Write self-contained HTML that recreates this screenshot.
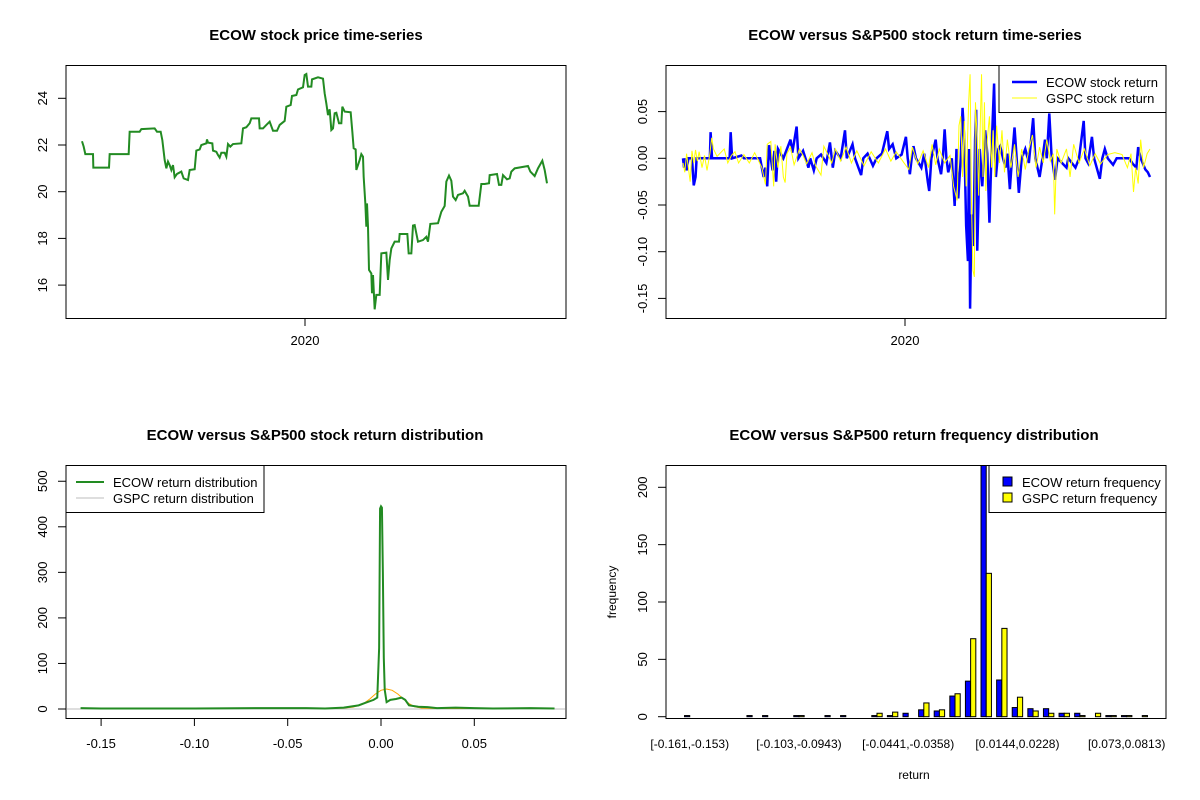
<!DOCTYPE html>
<html><head><meta charset="utf-8"><style>
html,body{margin:0;padding:0;background:#fff;}
svg{display:block;font-family:"Liberation Sans",Arial,sans-serif;}
</style></head><body>
<svg id="c" width="1200" height="800" xmlns="http://www.w3.org/2000/svg"></svg>
<script>
// ---- Panel 1: price series (t = trading-day index) ----
const priceT=[67,72,77,100,101,148,150,207,210,240,245,285,292,303,308,315,320,325,330,335,340,345,352,365,372,385,390,405,410,420,425,440,442,445,458,460,470,475,480,485,495,500,505,512,520,545,550,560,570,575,598,600,610,620,630,640,652,660,675,680,693,697,710,715,730,735,740,745,755,757,775,790,795,800,805,810,815,820,825,830,838,845,848,855,873,878,882,888,890,895,900,905,910,912,917,920,922,925,928,935,937,940,945,950,960,965,980,985,990,995,1005,1018,1020,1043,1047,1055,1060,1065,1075,1090,1100,1105,1112,1135,1145,1155,1160,1168,1175,1180,1188,1195,1210,1215,1225,1230,1257,1265,1275,1288,1290,1312,1318,1325,1330,1342,1350,1355,1365,1405,1412,1425,1435,1448,1455,1462];
const priceV=[22.16,21.93,21.61,21.61,21.03,21.03,21.61,21.61,22.57,22.57,22.68,22.71,22.57,22.57,22.21,21.36,21.00,21.29,21.14,20.93,21.14,20.62,20.76,20.86,20.57,20.50,20.93,20.96,21.76,21.81,22.00,22.07,22.24,22.10,22.07,21.76,21.71,21.57,21.46,21.67,21.67,21.50,22.04,21.93,22.04,22.07,22.71,22.76,22.93,23.14,23.14,22.71,22.71,22.86,23.00,22.61,22.61,22.86,23.03,23.64,23.71,24.10,24.14,24.38,24.47,25.00,25.04,24.50,24.50,24.81,24.90,24.84,24.21,23.78,23.28,23.53,22.64,22.71,23.36,23.38,22.93,22.93,23.64,23.43,23.40,22.57,21.86,21.81,20.93,21.14,21.36,21.61,21.50,20.64,19.50,18.50,19.50,18.50,16.65,16.50,15.65,16.43,14.96,15.58,15.58,17.36,17.39,16.22,17.07,17.57,17.86,17.86,18.19,18.19,17.36,17.36,18.55,18.57,17.86,17.93,18.07,17.86,18.62,18.65,19.14,19.39,20.43,20.69,20.47,19.79,19.64,19.86,19.93,20.04,19.79,19.40,19.40,20.33,20.33,20.36,20.71,20.76,20.29,20.29,20.71,20.53,20.57,20.86,21.00,21.10,20.86,20.67,21.00,21.33,20.93,20.36];
const priceTicks=[16,18,20,22,24];
// ---- Panel 2: returns ----
const ecowT=[175,178,182,185,190,200,205,210,213,250,252,256,305,308,312,338,345,390,400,405,410,415,420,425,430,435,440,455,475,480,492,497,510,525,530,540,548,560,575,585,593,600,615,627,632,648,655,672,678,690,705,715,730,745,750,760,770,785,797,802,808,813,818,825,840,848,858,862,868,880,885,895,900,905,910,915,925,933,938,943,950,955,960,965,970,973,976,980,985,990,993,996,1003,1010,1018,1024,1030,1036,1043,1048,1055,1060,1068,1075,1080,1087,1093,1100,1106,1112,1120,1130,1140,1152,1158,1170,1178,1185,1190,1197,1203,1213,1220,1245,1250,1270,1280,1293,1298,1305,1316,1322,1338,1345,1352,1360,1375,1385,1420,1430,1440,1445,1452,1465,1472,1478];
const ecowR=[0,-0.01,0,-0.013,0,0,-0.029,-0.02,0,0,0.028,0,0,0.028,0,0.003,0,0,-0.02,-0.01,-0.03,0.014,0,-0.013,0.008,-0.025,0.01,0,0.02,0.006,0.034,0,0.008,-0.01,0,-0.013,0,0.004,-0.005,0.017,-0.01,0.008,0,0.03,0,0.015,0,-0.018,0,0.005,-0.008,0,0.005,0.029,0.01,0.015,0,0.004,0.023,0,-0.017,0,0.013,0,-0.01,0.005,-0.025,-0.035,0,0.02,0,-0.017,0,0.031,0,-0.015,0,-0.051,0.01,-0.043,0,0.054,0.02,-0.072,-0.11,0.01,-0.161,-0.06,-0.094,0.02,0.052,-0.099,0.01,-0.03,0.03,0.005,-0.069,0.01,0.08,-0.02,0.01,0.013,0,-0.01,0.005,-0.033,0,0.033,0,-0.037,0,0.01,-0.005,0.043,0,-0.02,0,0.02,0,0.048,0.005,-0.023,0,-0.01,0,-0.01,0,0.04,0,-0.005,0.023,0,-0.022,0,0.01,0,-0.007,0,0,-0.006,-0.01,0.012,0,-0.012,-0.015,-0.02];
const gspcT=[175,180,185,190,195,200,205,210,215,220,228,235,242,250,255,260,270,280,290,300,310,320,330,345,360,375,385,395,405,410,420,428,432,440,448,455,460,465,475,485,500,510,520,535,545,560,568,578,590,600,615,630,645,660,680,700,720,740,755,770,790,805,815,830,845,860,870,880,890,905,920,930,940,945,950,955,960,965,972,976,980,984,988,991,996,1000,1004,1008,1012,1016,1020,1024,1030,1036,1040,1045,1050,1058,1065,1072,1080,1090,1100,1110,1120,1130,1140,1150,1160,1170,1180,1190,1200,1208,1212,1218,1230,1245,1255,1265,1280,1295,1310,1325,1340,1360,1380,1400,1415,1425,1432,1438,1445,1452,1460,1470,1478];
const gspcR=[-0.005,-0.015,0.005,-0.01,-0.025,0.008,-0.005,0.009,-0.003,0.007,-0.01,0.003,-0.013,0.005,0.022,0.01,0.002,0.006,0.01,-0.005,0.003,0.007,-0.005,0.004,-0.005,0.006,-0.002,-0.01,-0.028,0.015,0.018,-0.03,0.015,-0.01,0.013,-0.02,-0.026,0.005,0.012,-0.007,0.01,0.003,-0.006,0.006,-0.008,-0.018,0.013,0.005,-0.005,0.01,-0.003,0.012,-0.005,0.008,-0.008,0.007,-0.005,0.01,-0.003,0.007,-0.004,-0.012,0.012,-0.006,0.008,-0.01,0.015,-0.007,0.01,-0.005,0.003,-0.03,-0.045,0.035,0.045,-0.02,0.04,-0.03,0.06,0.09,-0.05,-0.12,-0.127,0.06,0.02,-0.04,0.03,0.09,-0.02,0.06,-0.035,0.02,0.045,-0.01,0.03,-0.02,0.035,-0.005,0.03,-0.015,0.02,-0.01,0.015,-0.02,0.01,-0.012,0.01,0.025,-0.01,0.012,-0.005,0.02,-0.003,0.005,-0.06,0.01,-0.005,0.01,-0.02,0.015,-0.005,0.01,-0.008,0.005,-0.006,0.004,0.006,0.004,-0.01,0.005,-0.036,-0.01,-0.027,0.02,-0.01,0.005,0.01];
const retTicks=[-0.15,-0.10,-0.05,0.00,0.05];
// ---- Panel 3: densities ----
const ecowDx=[-0.161,-0.15,-0.10,-0.06,-0.04,-0.03,-0.02,-0.012,-0.008,-0.004,-0.002,-0.001,-0.0005,0.0,0.0005,0.001,0.0015,0.002,0.003,0.005,0.008,0.011,0.013,0.015,0.02,0.025,0.03,0.04,0.05,0.06,0.08,0.093];
const ecowDy=[2,1,1,2,2,1,3,8,14,20,25,134,440,445,442,300,112,42,15,20,22,25,20,8,5,4,2,3,2,1,2,1];
const gspcDx=[-0.05,-0.03,-0.02,-0.015,-0.01,-0.006,-0.003,0,0.003,0.006,0.009,0.012,0.015,0.018,0.022,0.03,0.05,0.07,0.09];
const gspcDy=[1,2,2,4,10,22,33,41,44,41,33,22,12,5,2,1,1,1,1];
const densXTicks=[-0.15,-0.10,-0.05,0.00,0.05];
const densYTicks=[0,100,200,300,400,500];
// ---- Panel 4: frequencies ----
const binLabels=["[-0.161,-0.153)","[-0.103,-0.0943)","[-0.0441,-0.0358)","[0.0144,0.0228)","[0.073,0.0813)"];
const binLabelIdx=[0,7,14,21,28];
const ecowFreq=[1,0,0,0,1,1,0,1,0,1,1,0,1,1,3,6,5,18,31,250,32,8,7,7,3,3,0,1,1,0];
const gspcFreq=[0,0,0,0,0,0,0,1,0,0,0,0,3,4,0,12,6,20,68,125,77,17,5,3,3,1,3,1,1,1];
const freqTicks=[0,50,100,150,200];

const svg=document.getElementById('c');
const NS='http://www.w3.org/2000/svg';
function mk(tag,attrs,parent){const e=document.createElementNS(NS,tag);for(const k in attrs)e.setAttribute(k,attrs[k]);(parent||svg).appendChild(e);return e;}
function txt(s,x,y,attrs,parent){const e=mk('text',Object.assign({x:x,y:y,'font-size':13,'text-anchor':'middle',fill:'#000'},attrs||{}),parent);e.textContent=s;return e;}
function lin(d0,d1,r0,r1){return v=>r0+(v-d0)/(d1-d0)*(r1-r0);}
function ytick(g,y,x0,label){mk('line',{x1:x0-8,x2:x0,y1:y,y2:y,stroke:'#000'},g);const t=txt(label,x0-19,y,{transform:`rotate(-90 ${x0-19} ${y})`},g);return t;}

// ===== Panel 1 =====
(function(){
 const g=mk('g',{});
 
 
 const X=lin(67,1462,82,547), Y=v=>98.3+(24-v)*23.35;
 const t=txt('ECOW stock price time-series',316,40,{'font-weight':'bold','font-size':15},g);
 
 priceTicks.forEach(v=>{const l=ytick(g,Y(v),66,String(v));});
 mk('line',{x1:305,x2:305,y1:318,y2:326,stroke:'#000'},g);
 const xl=txt('2020',305,345,{},g);
 const p=mk('polyline',{points:priceT.map((d,i)=>X(d)+','+Y(priceV[i])).join(' '),fill:'none',stroke:'#228b22','stroke-width':2},g);
 
 const b=mk('rect',{x:66,y:65.5,width:500,height:253,fill:'none',stroke:'#000'},g);
 
})();

// ===== Panel 2 =====
(function(){
 const g=mk('g',{});
 
 
 const X=lin(175,1478,683,1150), Y=v=>158.3-v*934;
 const t=txt('ECOW versus S&P500 stock return time-series',915,40,{'font-weight':'bold','font-size':15},g);
 
 [0.05,0,-0.05,-0.10,-0.15].forEach(v=>{const l=ytick(g,Y(v),666,v.toFixed(2));});
 mk('line',{x1:905,x2:905,y1:318,y2:326,stroke:'#000'},g);
 const xl=txt('2020',905,345,{},g);
 const cp=mk('clipPath',{id:'cp2'},g);mk('rect',{x:666,y:65,width:500,height:253},cp);
 const pb=mk('polyline',{points:ecowT.map((d,i)=>X(d)+','+Y(ecowR[i])).join(' '),fill:'none',stroke:'#0000ff','stroke-width':2.5,'clip-path':'url(#cp2)'},g);
 
 const py=mk('polyline',{points:gspcT.map((d,i)=>X(d)+','+Y(gspcR[i])).join(' '),fill:'none',stroke:'#ffff00','stroke-width':1,'clip-path':'url(#cp2)'},g);
 
 const lg=mk('g',{},g);
 
 mk('rect',{x:999,y:65.5,width:167,height:47,fill:'#fff',stroke:'#000'},lg);
 mk('line',{x1:1012,x2:1037,y1:82,y2:82,stroke:'#0000ff','stroke-width':2.5},lg);
 mk('line',{x1:1012,x2:1037,y1:98,y2:98,stroke:'#ffff00','stroke-width':1},lg);
 txt('ECOW stock return',1046,87,{'text-anchor':'start'},lg);
 txt('GSPC stock return',1046,103,{'text-anchor':'start'},lg);
 const b=mk('rect',{x:666,y:65.5,width:500,height:253,fill:'none',stroke:'#000'},g);
 
})();

// ===== Panel 3 =====
(function(){
 const g=mk('g',{});
 
 
 const X=v=>381+v*1866, Y=v=>709-v*0.4555;
 const t=txt('ECOW versus S&P500 stock return distribution',315,440,{'font-weight':'bold','font-size':15},g);
 
 densYTicks.forEach(v=>{const l=ytick(g,Y(v),66,String(v));});
 densXTicks.forEach(v=>{mk('line',{x1:X(v),x2:X(v),y1:718,y2:726,stroke:'#000'},g);const l=txt(v.toFixed(2),X(v),748,{},g);});
 mk('line',{x1:67,x2:565,y1:Y(0),y2:Y(0),stroke:'#bebebe'},g);
 const po=mk('polyline',{points:gspcDx.map((d,i)=>X(d)+','+Y(gspcDy[i])).join(' '),fill:'none',stroke:'#ffa500','stroke-width':1},g);
 
 const pg=mk('polyline',{points:ecowDx.map((d,i)=>X(d)+','+Y(ecowDy[i])).join(' '),fill:'none',stroke:'#228b22','stroke-width':2},g);
 
 const lg=mk('g',{},g);
 
 mk('rect',{x:66,y:465.5,width:198,height:47,fill:'#fff',stroke:'#000'},lg);
 mk('line',{x1:76,x2:104,y1:482,y2:482,stroke:'#228b22','stroke-width':2},lg);
 mk('line',{x1:76,x2:104,y1:498,y2:498,stroke:'#bebebe','stroke-width':1},lg);
 txt('ECOW return distribution',113,487,{'text-anchor':'start'},lg);
 txt('GSPC return distribution',113,503,{'text-anchor':'start'},lg);
 const b=mk('rect',{x:66,y:465.5,width:500,height:253,fill:'none',stroke:'#000'},g);
 
})();

// ===== Panel 4 =====
(function(){
 const g=mk('g',{});
 
 
 const U=500/96.12, X=u=>666+(u+2.56)*U, Y=v=>716.7-v*1.147;
 const t=txt('ECOW versus S&P500 return frequency distribution',914,440,{'font-weight':'bold','font-size':15},g);
 
 freqTicks.forEach(v=>{const l=ytick(g,Y(v),666,String(v));});
 const yl=txt('frequency',616,592,{transform:'rotate(-90 616 592)','font-size':12},g);
 
 const xl=txt('return',914,779,{'font-size':12},g);
 
 binLabelIdx.forEach((gi,k)=>{const l=txt(binLabels[k],X(2+3*gi),748,{'font-size':12},g);});
 const cp=mk('clipPath',{id:'cp4'},g);mk('rect',{x:666,y:465.5,width:500,height:253},cp);
 ecowFreq.forEach((v,i)=>{
  const r=mk('rect',{x:X(1+3*i),y:Y(v),width:U,height:Y(0)-Y(v),fill:'#0000ff',stroke:'#000','stroke-width':1,'clip-path':'url(#cp4)'},g);
  
  
 });
 gspcFreq.forEach((v,i)=>{
  const r=mk('rect',{x:X(2+3*i),y:Y(v),width:U,height:Y(0)-Y(v),fill:'#ffff00',stroke:'#000','stroke-width':1,'clip-path':'url(#cp4)'},g);
  
  
 });
 const lg=mk('g',{},g);
 
 mk('rect',{x:989,y:465.5,width:177,height:47,fill:'#fff',stroke:'#000'},lg);
 mk('rect',{x:1003,y:477,width:9,height:9,fill:'#0000ff',stroke:'#000'},lg);
 mk('rect',{x:1003,y:493,width:9,height:9,fill:'#ffff00',stroke:'#000'},lg);
 txt('ECOW return frequency',1022,487,{'text-anchor':'start'},lg);
 txt('GSPC return frequency',1022,503,{'text-anchor':'start'},lg);
 const b=mk('rect',{x:666,y:465.5,width:500,height:253,fill:'none',stroke:'#000'},g);
 
})();
</script>
</body></html>
